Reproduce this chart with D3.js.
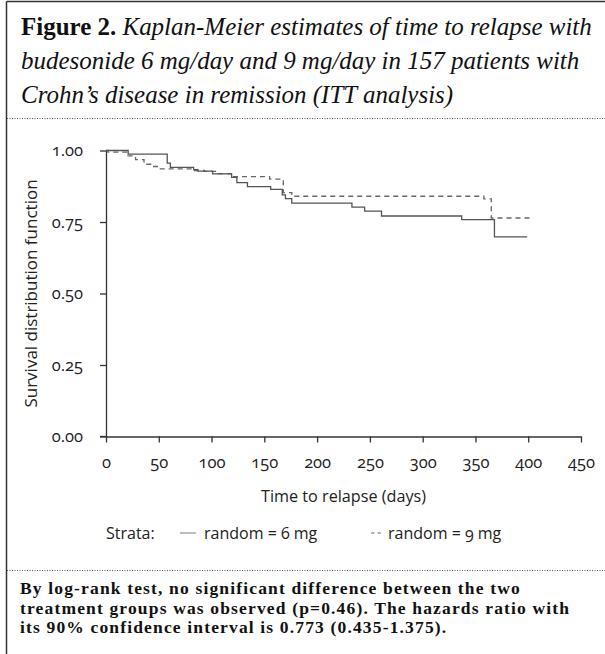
<!DOCTYPE html>
<html>
<head>
<meta charset="utf-8">
<script src="https://cdn.jsdelivr.net/npm/d3@7"></script>
<style>
  html, body { margin: 0; padding: 0; background: #fff; }
  svg { display: block; }
  .sans { font-family: "Open Sans", "Noto Sans", sans-serif; font-feature-settings: "onum" 1; font-variant-numeric: oldstyle-nums; }
  .serif { font-family: "Liberation Serif", "DejaVu Serif", serif; font-variant-numeric: oldstyle-nums; }
</style>
</head>
<body>
<script>
// ---- data ----
const xTicks = [0, 50, 100, 150, 200, 250, 300, 350, 400, 450];
const yTicks = [0.00, 0.25, 0.50, 0.75, 1.00];
// budesonide 6 mg (solid): event days and survival after each step
const days6 = [0, 21, 58, 61, 83, 87, 101, 119, 124, 134, 156, 167, 170, 176, 233, 245, 261, 337, 368];
const surv6 = [1.000, 0.987, 0.956, 0.941, 0.933, 0.928, 0.918, 0.906, 0.888, 0.874, 0.864, 0.845, 0.832, 0.816, 0.802, 0.788, 0.771, 0.758, 0.698];
const last6 = 399;
// budesonide 9 mg (dashed)
const days9 = [0, 2, 21, 28, 36, 43, 50, 83, 93, 105, 120, 155, 168, 176, 358, 365];
const surv9 = [1.000, 0.994, 0.981, 0.968, 0.952, 0.944, 0.936, 0.930, 0.927, 0.919, 0.909, 0.900, 0.853, 0.840, 0.831, 0.764];
const last9 = 403;
const titleLines = [
  ["Figure 2. ", "Kaplan-Meier estimates of time to relapse with"],
  ["", "budesonide 6 mg/day and 9 mg/day in 157 patients with"],
  ["", "Crohn\u2019s disease in remission (ITT analysis)"]
];
const footLines = [
  "By log-rank test, no significant difference between the two",
  "treatment groups was observed (p=0.46). The hazards ratio with",
  "its 90% confidence interval is 0.773 (0.435-1.375)."
];
const legendLabels = ["random = 6 mg", "random = 9 mg"];

// ---- drawing ----
const W = 605, H = 654;
const svg = d3.select("body").append("svg").attr("width", W).attr("height", H);

// frame
svg.append("line").attr("x1", 6.5).attr("x2", 6.5).attr("y1", 1.5).attr("y2", H).attr("stroke", "#333").attr("stroke-width", 1.5);
svg.append("line").attr("x1", 6.5).attr("x2", W).attr("y1", 1.5).attr("y2", 1.5).attr("stroke", "#333").attr("stroke-width", 1.5);

// title
const titleG = svg.append("g").attr("class", "serif");
const tl = titleG.selectAll("text").data(titleLines).join("text")
  .attr("x", 21).attr("y", (d, i) => 35 + i * 34)
  .attr("font-size", 24).attr("fill", "#111");
tl.append("tspan").attr("font-weight", "bold").text(d => d[0]);
tl.append("tspan").attr("font-style", "italic").text(d => d[1]);
{
  const n = tl.nodes()[0];
  const w = n.getComputedTextLength();
  tl.attr("font-size", 24 * 571 / w);
}

// dotted separators
[118.5, 570.5].forEach(yy => {
  svg.append("line").attr("x1", 7).attr("x2", W).attr("y1", yy).attr("y2", yy)
    .attr("stroke", "#555").attr("stroke-width", 1).attr("stroke-dasharray", "1,1.5");
});

// scales
const x = d3.scaleLinear().domain([0, 450]).range([106, 581]);
const y = d3.scaleLinear().domain([0, 1]).range([436.5, 150.5]);

const axisColor = "#333";
const xAxis = svg.append("g").attr("class", "sans").attr("transform", `translate(0,${y(0)})`)
  .call(d3.axisBottom(x).tickValues(xTicks).tickSize(6).tickPadding(14).tickSizeOuter(0).tickFormat(d3.format("d")));
const yAxis = svg.append("g").attr("class", "sans").attr("transform", `translate(${x(0)},0)`)
  .call(d3.axisLeft(y).tickValues(yTicks).tickSize(6).tickPadding(17).tickSizeOuter(0).tickFormat(d3.format(".2f")));
[xAxis, yAxis].forEach(g => {
  g.attr("font-family", null).attr("font-size", null);
  g.select(".domain").attr("stroke", axisColor).attr("stroke-width", 1.3);
  g.selectAll(".tick line").attr("stroke", axisColor).attr("stroke-width", 1.3);
  g.selectAll(".tick text").attr("fill", "#222").style("font-size", "16.5px");
});
svg.append("line").attr("x1", x(0) - 6).attr("x2", x(0)).attr("y1", y(0)).attr("y2", y(0)).attr("stroke", axisColor).attr("stroke-width", 1.3);

// axis titles
svg.append("text").attr("class", "sans").attr("font-size", 17).attr("fill", "#222")
  .attr("text-anchor", "middle").attr("transform", `translate(37,${(y(0) + y(1)) / 2}) rotate(-90)`)
  .text("Survival distribution function");
svg.append("text").attr("class", "sans").attr("font-size", 16.2).attr("fill", "#222")
  .attr("text-anchor", "middle").attr("x", (x(0) + x(450)) / 2).attr("y", 502)
  .text("Time to relapse (days)");

// curves
const line = d3.line().x(d => x(d[0])).y(d => y(d[1])).curve(d3.curveStepAfter);
function pts(days, surv, last) {
  const p = days.map((d, i) => [d, surv[i]]);
  p.push([last, surv[surv.length - 1]]);
  return p;
}
svg.append("path").attr("d", line(pts(days9, surv9, last9))).attr("fill", "none")
  .attr("stroke", "#666").attr("stroke-width", 1.3).attr("stroke-dasharray", "5,4");
svg.append("path").attr("d", line(pts(days6, surv6, last6))).attr("fill", "none")
  .attr("stroke", "#555").attr("stroke-width", 1.3);

// legend
const lg = svg.append("g").attr("class", "sans").attr("font-size", 16).attr("fill", "#222");
lg.append("text").attr("x", 106).attr("y", 539).text("Strata:");
lg.append("line").attr("x1", 180).attr("x2", 196).attr("y1", 533).attr("y2", 533).attr("stroke", "#999").attr("stroke-width", 1.3);
lg.append("text").attr("x", 204).attr("y", 539).text(legendLabels[0]);
lg.append("line").attr("x1", 371).attr("x2", 381).attr("y1", 533).attr("y2", 533).attr("stroke", "#999").attr("stroke-width", 1.3).attr("stroke-dasharray", "3.5,3");
lg.append("text").attr("x", 388).attr("y", 539).text(legendLabels[1]);

// footer
const ft = svg.append("g").attr("class", "serif").selectAll("text").data(footLines).join("text")
  .attr("x", 20).attr("y", (d, i) => 594 + i * 19.5).attr("font-weight", "bold")
  .style("font-size", "17.5px").attr("fill", "#111")
  .text(d => d);
{
  const n = ft.nodes()[1];
  const w = n.getComputedTextLength();
  const ls = Math.max(0, (549 - w) / (footLines[1].length - 1));
  ft.attr("letter-spacing", ls);
}
</script>
</body>
</html>
